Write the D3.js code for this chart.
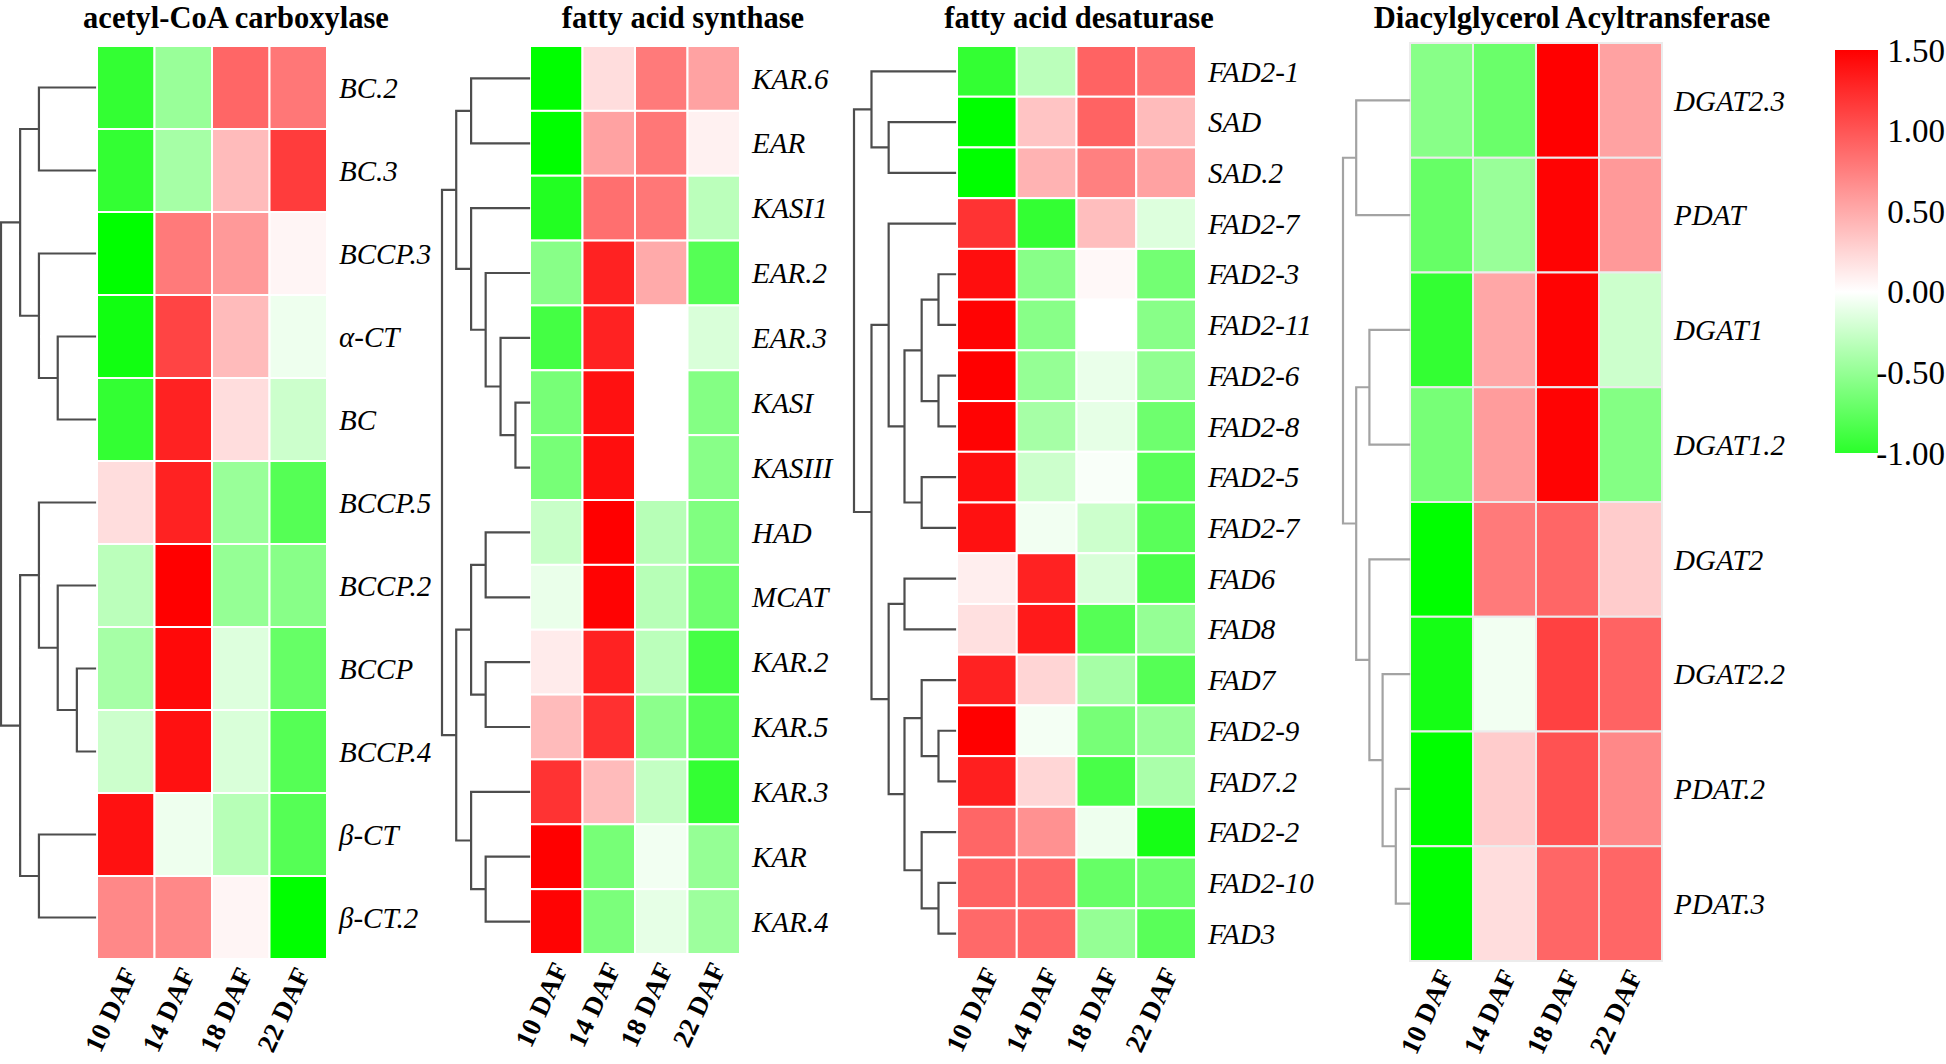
<!DOCTYPE html>
<html><head><meta charset="utf-8">
<script src="https://cdn.jsdelivr.net/npm/d3@7"></script>
<style>
html,body{margin:0;padding:0;background:#fff;}
svg{display:block;}
</style></head>
<body>
<svg id="chart" width="1946" height="1064"></svg>
<script>
// ---------------- DATA ----------------
const timepoints = ["10 DAF", "14 DAF", "18 DAF", "22 DAF"];

const accTitle = "acetyl-CoA carboxylase";
const accGenes = ["BC.2", "BC.3", "BCCP.3", "α-CT", "BC", "BCCP.5", "BCCP.2", "BCCP", "BCCP.4", "β-CT", "β-CT.2"];
const accValues = [
  [-0.96, -0.48, 0.90, 0.80],
  [-0.96, -0.42, 0.40, 1.15],
  [-1.20, 0.78, 0.60, 0.06],
  [-1.12, 1.10, 0.40, -0.08],
  [-0.96, 1.30, 0.20, -0.24],
  [0.20, 1.30, -0.48, -0.80],
  [-0.32, 1.50, -0.50, -0.56],
  [-0.42, 1.45, -0.16, -0.72],
  [-0.24, 1.40, -0.18, -0.80],
  [1.40, -0.08, -0.34, -0.80],
  [0.70, 0.70, 0.06, -1.20]
];
// node = [left, right, mergeHeight]; leaves are row indices
const accTree = [[[0, 1, 170], [2, [3, 4, 113], 170], 227], [[5, [6, [7, 8, 55], 113], 170], [9, 10, 170], 227], 285];

const fasTitle = "fatty acid synthase";
const fasGenes = ["KAR.6", "EAR", "KASI1", "EAR.2", "EAR.3", "KASI", "KASIII", "HAD", "MCAT", "KAR.2", "KAR.5", "KAR.3", "KAR", "KAR.4"];
const fasValues = [
  [-1.20, 0.20, 0.78, 0.55],
  [-1.20, 0.55, 0.80, 0.08],
  [-1.04, 0.85, 0.80, -0.32],
  [-0.56, 1.30, 0.50, -0.80],
  [-0.88, 1.30, 0.00, -0.18],
  [-0.64, 1.40, 0.00, -0.58],
  [-0.64, 1.42, 0.00, -0.56],
  [-0.26, 1.50, -0.34, -0.60],
  [-0.10, 1.48, -0.34, -0.68],
  [0.12, 1.30, -0.32, -0.88],
  [0.40, 1.22, -0.54, -0.80],
  [1.20, 0.40, -0.28, -0.96],
  [1.50, -0.64, -0.06, -0.50],
  [1.48, -0.62, -0.12, -0.46]
];
const fasTree = [[[0, 1, 175], [2, [3, [4, [5, 6, 41], 86], 131], 175], 220], [[[7, 8, 131], [9, 10, 131], 175], [11, [12, 13, 131], 175], 220], 263];

const fadTitle = "fatty acid desaturase";
const fadGenes = ["FAD2-1", "SAD", "SAD.2", "FAD2-7", "FAD2-3", "FAD2-11", "FAD2-6", "FAD2-8", "FAD2-5", "FAD2-7", "FAD6", "FAD8", "FAD7", "FAD2-9", "FAD7.2", "FAD2-2", "FAD2-10", "FAD3"];
const fadValues = [
  [-0.96, -0.32, 0.92, 0.82],
  [-1.20, 0.35, 0.92, 0.40],
  [-1.20, 0.45, 0.75, 0.55],
  [1.20, -0.96, 0.38, -0.16],
  [1.42, -0.56, 0.04, -0.66],
  [1.48, -0.56, 0.00, -0.56],
  [1.50, -0.50, -0.10, -0.52],
  [1.48, -0.42, -0.12, -0.68],
  [1.42, -0.24, -0.03, -0.78],
  [1.40, -0.06, -0.24, -0.78],
  [0.10, 1.30, -0.18, -0.85],
  [0.18, 1.35, -0.80, -0.50],
  [1.30, 0.25, -0.42, -0.80],
  [1.50, -0.05, -0.64, -0.48],
  [1.32, 0.24, -0.86, -0.40],
  [0.90, 0.65, -0.08, -1.10],
  [0.92, 0.90, -0.72, -0.70],
  [0.88, 0.90, -0.50, -0.78]
];
const fadTree = [[0, [1, 2, 201], 253], [[3, [[[4, 5, 50], [6, 7, 50], 101], [8, 9, 101], 153], 201], [[10, 11, 153], [[12, [13, 14, 50], 101], [15, [16, 17, 50], 101], 153], 201], 253], 306];

const dgatTitle = "Diacylglycerol Acyltransferase";
const dgatGenes = ["DGAT2.3", "PDAT", "DGAT1", "DGAT1.2", "DGAT2", "DGAT2.2", "PDAT.2", "PDAT.3"];
const dgatValues = [
  [-0.56, -0.70, 1.50, 0.55],
  [-0.72, -0.48, 1.48, 0.60],
  [-0.96, 0.52, 1.48, -0.24],
  [-0.64, 0.58, 1.48, -0.58],
  [-1.20, 0.78, 0.90, 0.30],
  [-1.10, -0.06, 1.12, 0.92],
  [-1.20, 0.30, 1.02, 0.70],
  [-1.20, 0.20, 0.90, 0.90]
];
const dgatTree = [[0, 1, 160], [[2, 3, 120], [4, [5, [6, 7, 40], 80], 120], 160], 200];

const legendTicks = [-1.0, -0.5, 0.0, 0.5, 1.0, 1.5];
const legendRange = [-1.0, 1.5];

// ---------------- LAYOUT / STYLE ----------------
const layout = [
  {title: accTitle, genes: accGenes, values: accValues, tree: accTree,
   x0: 97, x1: 327, y0: 46, y1: 959, rootX: 1, leafX: 95, titleX: 236,
   line: "#4d4d4d", cellStroke: "#ffffff"},
  {title: fasTitle, genes: fasGenes, values: fasValues, tree: fasTree,
   x0: 530, x1: 740, y0: 46, y1: 954, rootX: 442, leafX: 529, titleX: 683,
   line: "#4d4d4d", cellStroke: "#ffffff"},
  {title: fadTitle, genes: fadGenes, values: fadValues, tree: fadTree,
   x0: 957, x1: 1196, y0: 46, y1: 959, rootX: 854, leafX: 955, titleX: 1079,
   line: "#4d4d4d", cellStroke: "#ffffff"},
  {title: dgatTitle, genes: dgatGenes, values: dgatValues, tree: dgatTree,
   x0: 1410, x1: 1662, y0: 43, y1: 961, rootX: 1343, leafX: 1409, titleX: 1572,
   line: "#a3a3a3", cellStroke: "#ececec"}
];

const serif = "'Liberation Serif','Times New Roman',Times,serif";
const color = d3.scaleLinear()
  .domain([-1.2, 0, 1.5])
  .range(["#00ff00", "#ffffff", "#ff0000"])
  .interpolate(d3.interpolateRgb)
  .clamp(true);

const svg = d3.select("#chart");

layout.forEach(p => {
  const g = svg.append("g");
  const x = d3.scaleBand().domain(timepoints).range([p.x0, p.x1]);
  const y = d3.scaleBand().domain(d3.range(p.genes.length)).range([p.y0, p.y1]);

  // title
  g.append("text")
    .attr("x", p.titleX).attr("y", 27.5)
    .attr("text-anchor", "middle")
    .style("font-family", serif).style("font-weight", "bold").style("font-size", "30.5px")
    .text(p.title);

  // cells
  const cells = [];
  p.values.forEach((row, i) => row.forEach((v, j) => cells.push({i, j, v})));
  g.selectAll("rect.cell").data(cells).join("rect")
    .attr("class", "cell")
    .attr("x", d => x(timepoints[d.j]))
    .attr("y", d => y(d.i))
    .attr("width", x.bandwidth())
    .attr("height", y.bandwidth())
    .attr("fill", d => color(d.v))
    .attr("stroke", p.cellStroke)
    .attr("stroke-width", 2);

  // row labels
  g.selectAll("text.row").data(p.genes).join("text")
    .attr("class", "row")
    .attr("x", p.x1 + 12)
    .attr("y", (d, i) => y(i) + y.bandwidth() / 2)
    .attr("dy", "0.35em")
    .style("font-family", serif).style("font-style", "italic").style("font-size", "29px")
    .text(d => d);

  // column labels
  g.selectAll("text.col").data(timepoints).join("text")
    .attr("class", "col")
    .attr("transform", d => `translate(${x(d) + x.bandwidth() / 2 + 4},${p.y1 + 10}) rotate(-65)`)
    .attr("text-anchor", "end")
    .attr("dy", "0.35em")
    .style("font-family", serif).style("font-weight", "bold").style("font-size", "27px")
    .text(d => d);

  // dendrogram
  const rootH = p.tree[2];
  const hx = d3.scaleLinear().domain([0, rootH]).range([p.leafX, p.rootX]);
  const segs = [];
  function walk(node) {
    if (typeof node === "number") {
      return {y: y(node) + y.bandwidth() / 2, h: 0};
    }
    const a = walk(node[0]);
    const b = walk(node[1]);
    const h = node[2];
    segs.push([hx(h), a.y, hx(h), b.y]);
    segs.push([hx(h), a.y, hx(a.h), a.y]);
    segs.push([hx(h), b.y, hx(b.h), b.y]);
    return {y: (a.y + b.y) / 2, h};
  }
  walk(p.tree);
  g.append("path")
    .attr("d", segs.map(s => `M${s[0]},${s[1]}L${s[2]},${s[3]}`).join(""))
    .attr("fill", "none")
    .attr("stroke", p.line)
    .attr("stroke-width", 2.2)
    .attr("stroke-linecap", "square");
});

// ---------------- COLOR LEGEND ----------------
const lx0 = 1835, lx1 = 1878, ly0 = 50, ly1 = 453;
const ly = d3.scaleLinear().domain(legendRange).range([ly1, ly0]);
const defs = svg.append("defs");
const grad = defs.append("linearGradient").attr("id", "lg")
  .attr("x1", 0).attr("y1", 1).attr("x2", 0).attr("y2", 0);
const stops = d3.range(0, 1.0001, 0.05).map(t => legendRange[0] + t * (legendRange[1] - legendRange[0]));
grad.selectAll("stop").data(stops).join("stop")
  .attr("offset", d => (d - legendRange[0]) / (legendRange[1] - legendRange[0]))
  .attr("stop-color", d => color(d));
svg.append("rect")
  .attr("x", lx0).attr("y", ly0).attr("width", lx1 - lx0).attr("height", ly1 - ly0)
  .attr("fill", "url(#lg)");
svg.selectAll("text.leg").data(legendTicks).join("text")
  .attr("class", "leg")
  .attr("x", 1945)
  .attr("y", d => ly(d))
  .attr("dy", "0.35em")
  .attr("text-anchor", "end")
  .style("font-family", serif).style("font-size", "33px")
  .text(d => d.toFixed(2));
</script>
</body></html>
